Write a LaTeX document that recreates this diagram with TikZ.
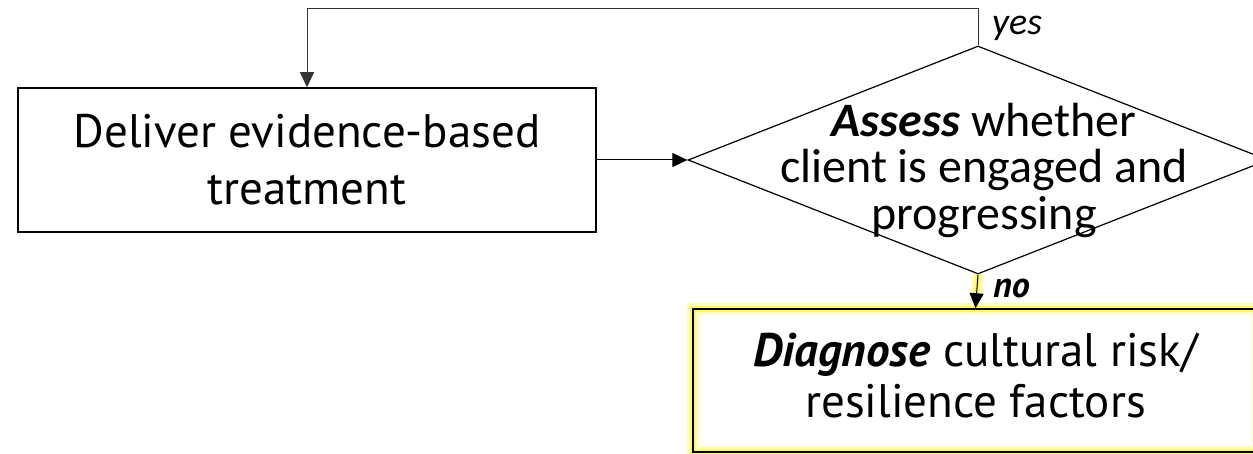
\documentclass[tikz,border=0pt]{standalone}
\usepackage{fontspec}
\setmainfont{Carlito}
\newfontfamily\boxfont{PT Sans}
\usetikzlibrary{shapes.geometric,arrows.meta}
\tikzset{
  stepbox/.style={draw, line width=1.5pt, align=center, inner sep=0pt},
  decision/.style={diamond, draw, line width=1.2pt, inner sep=0pt},
  glow/.style={preaction={draw, yellow!80!white, opacity=0.3, line width=12pt},
    preaction={draw, yellow, opacity=0.45, line width=6pt}},
  arr/.style={-{Triangle[length=15pt,width=14pt]}, line width=1pt},
  tag/.style={inner sep=0pt, anchor=base west}
}
\begin{document}
\begin{tikzpicture}[x=1pt,y=-1pt]
  \useasboundingbox (0,0) rectangle (1253,454);

  \node[stepbox, minimum width=578pt, minimum height=144pt,
    font=\boxfont\fontsize{47}{57}\selectfont] (deliver) at (307,160)
    {Deliver evidence-based\\treatment};
  \node[decision, minimum width=580pt, minimum height=228pt] (assess) at (978,160) {};
  \node[align=center, inner sep=0pt, font=\fontsize{48}{46.5}\selectfont] (assesstext) at (984,170)
    {\textbf{\textit{Assess}} whether\\client is engaged and\\progressing};
  \node[stepbox, glow, minimum width=565pt, minimum height=143pt,
    font=\boxfont\fontsize{47}{51}\selectfont] (diagnose) at (975.5,380.5)
    {\textbf{\textit{Diagnose}} cultural risk/\\resilience factors\rule[-10pt]{0pt}{0pt}};

  \draw[arr] (deliver.east) -- (assess.west);
  \draw[arr, black!80, line width=0.8pt] (assess.north) -- ++(0,-37) -| (deliver.north);
  \draw[arr, glow] (assess.south) -- (diagnose.north);

  \node[tag, font=\itshape\fontsize{38}{44}\selectfont] (yes) at (992,35) {yes};
  \node[tag, font=\boxfont\bfseries\itshape\fontsize{36}{40}\selectfont] (no) at (993,298) {no};
\end{tikzpicture}
\end{document}
